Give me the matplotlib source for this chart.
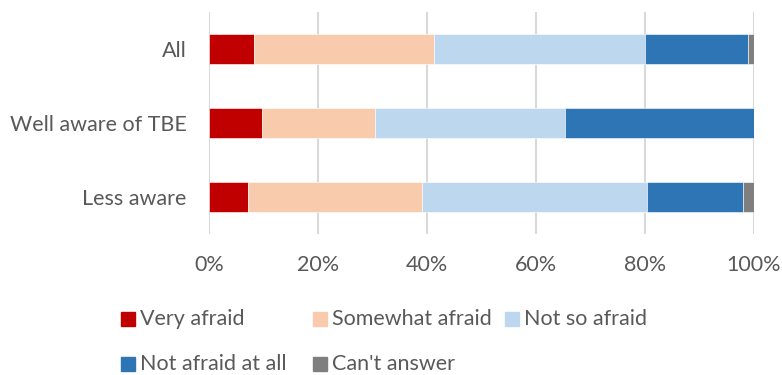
import numpy as np
import matplotlib.pyplot as plt
from matplotlib.patches import Rectangle

plt.rcParams['font.family'] = ['Lato', 'DejaVu Sans']

groups = ["All", "Well aware of TBE", "Less aware"]
series = ["Very afraid", "Somewhat afraid", "Not so afraid", "Not afraid at all", "Can't answer"]
very_afraid = [8.2, 9.7, 7.1]
somewhat_afraid = [33.2, 20.8, 32.1]
not_so_afraid = [38.6, 34.9, 41.2]
not_afraid_at_all = [18.9, 34.6, 17.6]
cant_answer = [1.1, 0.0, 2.0]
colors = ["#C00000", "#F8CBAD", "#BDD7EE", "#2E75B6", "#7F7F7F"]

values = [very_afraid, somewhat_afraid, not_so_afraid, not_afraid_at_all, cant_answer]
txt = "#595959"
fs = 15.5

fig = plt.figure(figsize=(7.82, 3.75), dpi=100)
ax = fig.add_axes([209 / 782, 1 - 234 / 375, 544.5 / 782, 222 / 375])

y = np.arange(len(groups))
left = np.zeros(len(groups))
for vals, c in zip(values, colors):
    ax.barh(y, vals, left=left, height=0.4, color=c, edgecolor="white", linewidth=0.4, zorder=3)
    left += np.array(vals)

ax.set_ylim(2.5, -0.5)
ax.set_xlim(0, 100)
ax.set_xticks(np.arange(0, 101, 20))
ax.set_xticklabels([f"{v}%" for v in range(0, 101, 20)])
ax.set_yticks(y)
ax.set_yticklabels(groups)
ax.grid(axis="x", color="#d9d9d9", linewidth=1.5, zorder=0)
for s in ax.spines.values():
    s.set_visible(False)
ax.tick_params(length=0, labelsize=fs, colors=txt)
ax.tick_params(axis="x", pad=15)
ax.tick_params(axis="y", pad=16)

# legend, drawn by hand to match the two-row layout
legend_pos = [(121, 319), (313, 319), (505, 319), (121, 364), (313, 364)]
for (px, py), name, c in zip(legend_pos, series, colors):
    fig.patches.append(Rectangle((px / 782, 1 - (py + 7) / 375), 14 / 782, 14 / 375,
                                 transform=fig.transFigure, color=c))
    fig.text((px + 19) / 782, 1 - py / 375, name, fontsize=fs, color=txt, va="center", ha="left")

fig.savefig("out.png", dpi=100)
